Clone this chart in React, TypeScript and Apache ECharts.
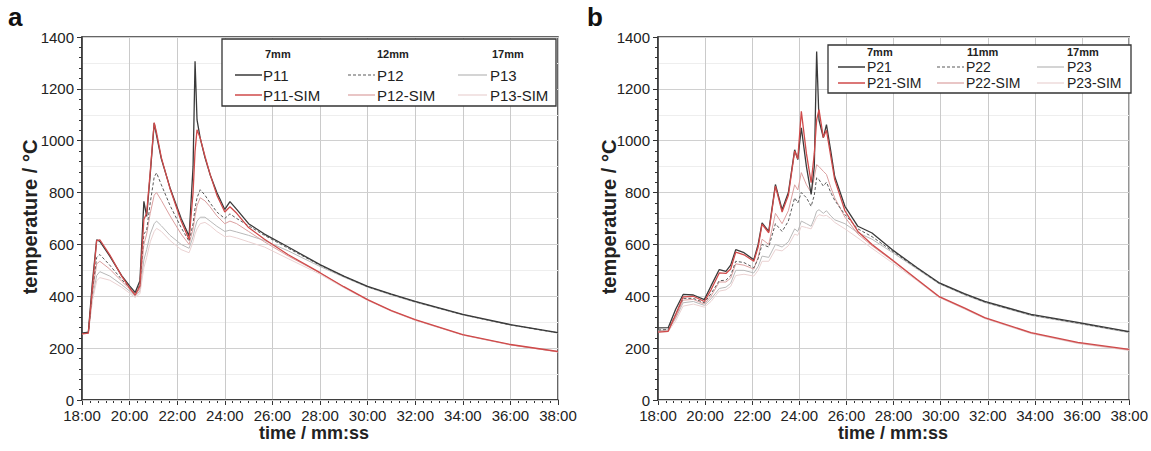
import React, { useEffect, useRef } from "react";
import * as echarts from "echarts";

// ---------- Panel a data (time in seconds, temperature in °C) ----------
const TA = [1080, 1096, 1106, 1117, 1125, 1150, 1180, 1200, 1214, 1226, 1236, 1243, 1252, 1262, 1268, 1280, 1302, 1330, 1350, 1360, 1365, 1370, 1378, 1390, 1403, 1420, 1440, 1453, 1470, 1500, 1540, 1600, 1680, 1740, 1800, 1860, 1920, 2040, 2160, 2280];
const P11 = [258, 262, 450, 618, 612, 555, 480, 440, 415, 460, 766, 708, 870, 1068, 1020, 930, 818, 700, 632, 900, 1306, 1080, 1010, 935, 869, 800, 735, 765, 735, 680, 640, 590, 522, 478, 438, 408, 380, 330, 291, 260];
const P11SIM = [255, 258, 430, 615, 618, 560, 478, 432, 405, 440, 696, 720, 880, 1070, 1030, 935, 815, 690, 619, 800, 960, 1042, 1010, 940, 870, 790, 725, 745, 720, 665, 620, 560, 491, 437, 387, 345, 310, 252, 214, 187];
const P12 = [257, 260, 420, 550, 561, 520, 465, 432, 410, 445, 640, 655, 760, 860, 876, 830, 750, 665, 612, 680, 740, 780, 811, 790, 760, 725, 700, 718, 700, 672, 635, 585, 520, 477, 437, 407, 379, 329, 290, 259];
const P12SIM = [256, 258, 410, 525, 535, 505, 458, 428, 403, 430, 600, 640, 720, 790, 800, 770, 710, 640, 600, 660, 710, 750, 780, 768, 745, 710, 680, 690, 680, 650, 610, 555, 490, 436, 386, 344, 309, 251, 213, 186];
const P13 = [256, 258, 390, 480, 495, 478, 445, 420, 400, 420, 540, 580, 640, 680, 690, 672, 635, 600, 585, 630, 665, 690, 705, 705, 690, 670, 650, 655, 648, 635, 615, 575, 515, 474, 435, 405, 377, 328, 289, 258];
const P13SIM = [255, 257, 380, 460, 472, 462, 435, 412, 395, 410, 510, 550, 610, 650, 662, 650, 615, 580, 568, 610, 640, 660, 680, 685, 672, 650, 630, 632, 625, 610, 590, 545, 485, 433, 384, 342, 307, 250, 212, 185];

// ---------- Panel b data ----------
const TB = [1080, 1106, 1125, 1144, 1170, 1198, 1215, 1236, 1253, 1265, 1278, 1299, 1324, 1335, 1345, 1362, 1379, 1396, 1412, 1428, 1436, 1445, 1458, 1470, 1478, 1484, 1490, 1501, 1509, 1520, 1530, 1556, 1589, 1625, 1676, 1740, 1795, 1860, 1912, 2030, 2149, 2280];
const P21 = [278, 279, 350, 407, 405, 387, 440, 503, 496, 520, 580, 568, 541, 600, 683, 650, 831, 734, 800, 965, 927, 1050, 900, 793, 900, 1344, 1080, 1012, 1062, 960, 862, 747, 670, 644, 580, 510, 453, 410, 380, 330, 299, 264];
const P21SIM = [262, 265, 330, 398, 400, 380, 425, 490, 488, 505, 570, 560, 535, 590, 678, 645, 825, 725, 790, 960, 930, 1113, 950, 838, 950, 1080, 1120, 1012, 1040, 940, 850, 730, 650, 600, 541, 465, 400, 355, 318, 260, 222, 195];
const P22 = [270, 272, 330, 392, 392, 375, 410, 460, 462, 480, 535, 530, 510, 545, 600, 590, 680, 650, 690, 780, 760, 800, 780, 747, 790, 857, 850, 825, 840, 800, 770, 715, 660, 630, 575, 508, 451, 408, 378, 328, 297, 262];
const P22SIM = [265, 267, 320, 385, 388, 370, 400, 455, 455, 470, 525, 520, 505, 550, 620, 600, 720, 680, 730, 830, 810, 877, 830, 800, 860, 908, 900, 882, 870, 820, 780, 705, 640, 595, 538, 463, 398, 353, 316, 258, 220, 193];
const P23 = [268, 270, 315, 375, 380, 365, 390, 430, 435, 450, 500, 500, 490, 515, 555, 550, 600, 590, 610, 660, 650, 690, 680, 670, 700, 728, 734, 720, 730, 710, 695, 680, 645, 620, 570, 505, 449, 406, 376, 326, 295, 260];
const P23SIM = [262, 264, 305, 362, 370, 358, 380, 420, 425, 438, 480, 485, 478, 500, 535, 535, 580, 575, 595, 640, 635, 670, 665, 660, 685, 705, 715, 710, 712, 700, 685, 660, 625, 585, 530, 460, 396, 351, 314, 256, 218, 191];

const X_MIN = 1080;
const X_MAX = 2280;
const X_STEP = 120;
const Y_MIN = 0;
const Y_MAX = 1400;
const Y_STEP = 200;

const FONT = "'Liberation Sans', Arial, Helvetica, sans-serif";

const fmt = (v: number) => `${Math.floor(v / 60)}:${String(Math.round(v % 60)).padStart(2, "0")}`;

const STYLES: Record<string, { color: string; width: number; type: any }> = {
  m1: { color: "#3a3a3a", width: 1.3, type: "solid" },
  s1: { color: "#cf4a4a", width: 1.3, type: "solid" },
  m2: { color: "#5a5a5a", width: 1, type: [3, 2] },
  s2: { color: "#dba0a0", width: 1, type: "solid" },
  m3: { color: "#b8b8b8", width: 1, type: "solid" },
  s3: { color: "#ead2d2", width: 1, type: "solid" },
};

function mkSeries(name: string, t: number[], v: number[], key: string, axis: number) {
  const s = STYLES[key];
  return {
    name,
    type: "line",
    xAxisIndex: axis,
    yAxisIndex: axis + 2,
    data: t.map((x, i) => [x, v[i]]),
    showSymbol: false,
    symbol: "none",
    lineStyle: { color: s.color, width: s.width, type: s.type },
    itemStyle: { color: s.color },
  };
}

function txt(text: string, x: number, y: number, font: string, align = "left", fill = "#222", extra: any = {}) {
  return {
    type: "text",
    x,
    y,
    z: 100,
    ...extra,
    style: { text, font, fill, align, verticalAlign: "middle", textAlign: align, textVerticalAlign: "middle" },
  };
}

function seg(x1: number, x2: number, y: number, key: string) {
  const s = STYLES[key];
  return {
    type: "line",
    z: 100,
    shape: { x1, y1: y, x2, y2: y },
    style: { stroke: s.color, lineWidth: s.width + 0.2, lineDash: Array.isArray(s.type) ? s.type : null },
  };
}

function legend(box: number[], headers: string[], hx: number[], hy: number, rows: number[], lx: number[][], tx: number[], names: string[][], fontSize: number) {
  const els: any[] = [
    { type: "rect", z: 99, shape: { x: box[0], y: box[1], width: box[2], height: box[3] }, style: { fill: "#fff", stroke: "#333", lineWidth: 1.3 } },
  ];
  headers.forEach((h, i) => els.push(txt(h, hx[i], hy, `bold 11px ${FONT}`)));
  const keys = [["m1", "m2", "m3"], ["s1", "s2", "s3"]];
  rows.forEach((ry, r) => {
    for (let c = 0; c < 3; c++) {
      els.push(seg(lx[c][0], lx[c][1], ry, keys[r][c]));
      els.push(txt(names[r][c], tx[c], ry, `${fontSize}px ${FONT}`));
    }
  });
  return els;
}

export default function App() {
  const ref = useRef<HTMLDivElement>(null);
  useEffect(() => {
    const chart = echarts.init(ref.current!, null, { renderer: "svg" });
    const grids = [
      { left: 82, top: 37, width: 476, height: 363 },
      { left: 658, top: 37, width: 475, height: 363 },
    ].map((g) => ({ ...g, show: true, borderColor: "#333", borderWidth: 1.5, backgroundColor: "transparent" }));

    const xAxis = [0, 1].map((i) => ({
      type: "value",
      gridIndex: i,
      min: X_MIN,
      max: X_MAX,
      interval: X_STEP,
      axisLine: { show: true, onZero: false, lineStyle: { color: "#333", width: 1.5 } },
      axisTick: { show: true, length: 5, lineStyle: { color: "#333" } },
      minorTick: { show: true, splitNumber: 6, length: 3, lineStyle: { color: "#333" } },
      axisLabel: { formatter: fmt, fontSize: 15, fontFamily: FONT, color: "#222", margin: 8 },
      splitLine: { show: true, lineStyle: { color: "#cacaca", width: 1 } },
    }));

    const faintY = [0, 1].map((i) => ({
      type: "value",
      gridIndex: i,
      min: Y_MIN,
      max: Y_MAX,
      interval: 100,
      position: "left",
      z: 0,
      axisLine: { show: false },
      axisTick: { show: false },
      axisLabel: { show: false },
      splitLine: { show: true, lineStyle: { color: "#eeeeee", width: 1 } },
    }));
    const mainY = [0, 1].map((i) => ({
      type: "value",
      gridIndex: i,
      min: Y_MIN,
      max: Y_MAX,
      interval: Y_STEP,
      position: "left",
      z: 1,
      axisLine: { show: true, onZero: false, lineStyle: { color: "#333", width: 1.5 } },
      axisTick: { show: true, length: 5, lineStyle: { color: "#333" } },
      minorTick: { show: true, splitNumber: 5, length: 3, lineStyle: { color: "#333" } },
      axisLabel: { formatter: (v: number) => String(v), fontSize: 15, fontFamily: FONT, color: "#222", margin: 8, padding: [0, 0, 3, 0] },
      splitLine: { show: true, lineStyle: { color: "#d0d0d0", width: 1 } },
    }));

    const series = [
      mkSeries("P13", TA, P13, "m3", 0),
      mkSeries("P13-SIM", TA, P13SIM, "s3", 0),
      mkSeries("P12-SIM", TA, P12SIM, "s2", 0),
      mkSeries("P12", TA, P12, "m2", 0),
      mkSeries("P11", TA, P11, "m1", 0),
      mkSeries("P11-SIM", TA, P11SIM, "s1", 0),
      mkSeries("P23", TB, P23, "m3", 1),
      mkSeries("P23-SIM", TB, P23SIM, "s3", 1),
      mkSeries("P22-SIM", TB, P22SIM, "s2", 1),
      mkSeries("P22", TB, P22, "m2", 1),
      mkSeries("P21", TB, P21, "m1", 1),
      mkSeries("P21-SIM", TB, P21SIM, "s1", 1),
    ];

    const yTitle = { rotation: Math.PI / 2 };
    const graphic: any[] = [
      txt("a", 8, 17, `bold 26px ${FONT}`, "left", "#111"),
      txt("b", 587, 17, `bold 26px ${FONT}`, "left", "#111"),
      txt("temperature / °C", 30, 217, `bold 20px ${FONT}`, "center", "#222", yTitle),
      txt("temperature / °C", 609, 217, `bold 20px ${FONT}`, "center", "#222", yTitle),
      txt("time / mm:ss", 314, 433, `bold 18px ${FONT}`, "center"),
      txt("time / mm:ss", 893, 433, `bold 18px ${FONT}`, "center"),
      ...legend(
        [222, 39, 334, 67],
        ["7mm", "12mm", "17mm"],
        [265, 377, 492],
        54,
        [75, 95],
        [[235, 262], [348, 375], [458, 487]],
        [263, 377, 490],
        [["P11", "P12", "P13"], ["P11-SIM", "P12-SIM", "P13-SIM"]],
        15
      ),
      ...legend(
        [828, 45, 303, 48],
        ["7mm", "11mm", "17mm"],
        [867, 967, 1067],
        52,
        [67, 83],
        [[838, 865], [937, 964], [1037, 1064]],
        [867, 966, 1067],
        [["P21", "P22", "P23"], ["P21-SIM", "P22-SIM", "P23-SIM"]],
        14
      ),
    ];

    chart.setOption({
      animation: false,
      backgroundColor: "#fff",
      textStyle: { fontFamily: FONT },
      grid: grids,
      xAxis,
      yAxis: [...faintY, ...mainY],
      series,
      graphic,
    });
    return () => chart.dispose();
  }, []);
  return <div ref={ref} style={{ position: "absolute", left: 0, top: 0, width: 1151, height: 451, background: "#fff" }} />;
}
